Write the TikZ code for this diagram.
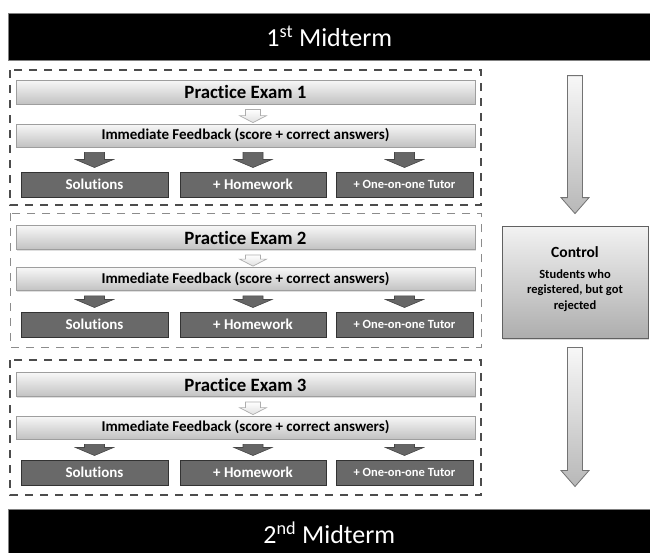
\documentclass[tikz,border=0pt]{standalone}
\usepackage{fontspec}
\setmainfont{Carlito}[Ligatures={NoCommon}]
\usetikzlibrary{calc,shadows}
\newcommand\blockarrow[6]{%
  \path[#1] let \p1=#2, \p2=#3 in
    (\x1-#4,\y1) -- (\x1+#4,\y1) -- (\x1+#4,\y2+#6) -- (\x1+#5,\y2+#6)
    -- (\x1,\y2) -- (\x1-#5,\y2+#6) -- (\x1-#4,\y2+#6) -- cycle;}
\begin{document}
\begin{tikzpicture}[x=1pt,y=-1pt,
  midbar/.style={fill=black,draw=black!50,line width=0.6pt,text=white,inner sep=0pt,
    minimum width=648pt,minimum height=47pt,font=\fontsize{26}{30}\selectfont},
  lightbar/.style={draw=black!38,line width=0.8pt,top color=black!3,bottom color=black!24,
    inner sep=0pt,minimum width=459pt,
    drop shadow={shadow xshift=0.8pt,shadow yshift=-1pt,opacity=0.25}},
  examtitle/.style={lightbar,minimum height=24pt,font=\bfseries\fontsize{18.8}{22}\selectfont},
  feedback/.style={lightbar,minimum height=23pt,font=\bfseries\fontsize{15}{18}\selectfont},
  darkbox/.style={fill=black!59,draw=black!80,line width=1pt,text=white,inner sep=0pt,
    minimum height=25pt,font=\bfseries\fontsize{15}{18}\selectfont},
  darkarrow/.style={fill=black!60,draw=black!72,line width=0.6pt},
  hollowarrow/.style={top color=white,bottom color=black!12,draw=black!32,line width=0.7pt},
  bigarrow/.style={top color=black!3,bottom color=black!28,draw=black!55,line width=0.8pt},
  dashbox/.style={dashed,dash pattern=on 8pt off 7pt,line width=#1},
  ctrlbox/.style={top color=black!5,bottom color=black!32,draw=black!62,line width=0.8pt,
    inner sep=0pt,minimum width=146pt,minimum height=112pt,
    drop shadow={shadow xshift=1.2pt,shadow yshift=-1.5pt,opacity=0.3}},
  ctrltext/.style={inner sep=0pt,align=center,font=\bfseries\fontsize{12.5}{15.5}\selectfont}
]
\useasboundingbox (0,0) rectangle (650,552);
\fill[white] (0,0) rectangle (650,552);

% Midterm bars
\node[midbar,anchor=north west] (mt1) at (8,13) {\hspace*{-6pt}1\textsuperscript{st} Midterm};
\node[midbar,anchor=north west] (mt2) at (8,508.5) {\hspace*{-6pt}2\textsuperscript{nd} Midterm};

% Practice blocks
\foreach \i/\dt/\db/\ey/\fy/\by/\dc/\dw in
  {1/70/205/92/135.5/184.5/black!70/1.6pt,
   2/213/347/237.5/279/324.5/black!45/1pt,
   3/360/495/384.5/427.5/472.5/black!70/1.6pt}{
  \draw[dashbox=\dw,draw=\dc] (10,\dt) rectangle (481,\db);
  \node[examtitle] (pe\i) at (245.5,\ey) {Practice Exam \i};
  \node[feedback] (fb\i) at (245.5,\fy) {Immediate Feedback (score + correct answers)};
  \node[darkbox,minimum width=147pt] (sol\i) at (94.5,\by) {Solutions};
  \node[darkbox,minimum width=146pt] (hw\i) at (253,\by) {+ Homework};
  \node[darkbox,minimum width=137pt,font=\bfseries\fontsize{12.5}{15}\selectfont] (tut\i) at (404.5,\by) {+ One-on-one Tutor};
  \blockarrow{hollowarrow}{($(pe\i.south)+(7.5,5)$)}{($(fb\i.north)+(7.5,-1)$)}{7.5pt}{13.5pt}{7pt}
  \blockarrow{darkarrow}{($(fb\i.south -| sol\i.north)+(0,5)$)}{($(sol\i.north)+(0,-4)$)}{10pt}{19pt}{8pt}
  \blockarrow{darkarrow}{($(fb\i.south -| hw\i.north)+(0,5)$)}{($(hw\i.north)+(0,-4)$)}{10pt}{19pt}{8pt}
  \blockarrow{darkarrow}{($(fb\i.south -| tut\i.north)+(0,5)$)}{($(tut\i.north)+(0,-4)$)}{10pt}{19pt}{8pt}
}

% Control column
\node[ctrlbox] (ctrl) at (575,282) {};
\node[inner sep=0pt,font=\bfseries\fontsize{15.5}{18}\selectfont] (ctrltitle) at (575,252) {Control};
\node[ctrltext] (ctrlsub) at (575,290.5) {Students who\\registered, but got\\rejected};
\blockarrow{bigarrow}{($(mt1.south -| ctrl.north)+(0,15)$)}{($(ctrl.north)+(0,-12)$)}{7.5pt}{14pt}{16pt}
\blockarrow{bigarrow}{($(ctrl.south)+(0,9)$)}{($(mt2.north -| ctrl.south)+(0,-22)$)}{7.5pt}{14pt}{16pt}
\end{tikzpicture}
\end{document}
